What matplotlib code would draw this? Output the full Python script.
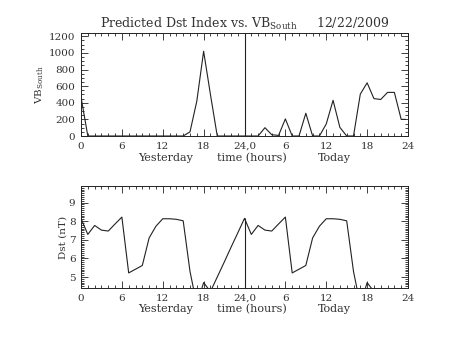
import matplotlib
matplotlib.use("Agg")
import matplotlib.pyplot as plt
from matplotlib.ticker import MultipleLocator, FixedLocator
import numpy as np

plt.rcParams['font.family'] = ['DejaVu Serif']
plt.rcParams['mathtext.fontset'] = 'dejavuserif'

# ---- data ----
hours_vb = [0, 1, 2, 3, 4, 5, 6, 7, 8, 9, 10, 11, 12, 13, 14, 15, 16, 17, 18, 19, 20, 21, 22, 23,
            24, 25, 26, 27, 28, 29, 30, 31, 32, 33, 34, 35, 36, 37, 38, 39, 40, 41, 42, 43, 44, 45, 46, 47, 47.6]
vb_south = [470, 0, 0, 0, 0, 0, 0, 0, 0, 0, 0, 0, 0, 0, 0, 0, 50, 420, 1020, 500, 0, 0, 0, 0,
            0, 0, 0, 100, 15, 7, 206, 0, 0, 274, 0, 0, 145, 430, 104, 0, 0, 505, 640, 450, 440, 525, 525, 200, 200]

hours_dst = list(range(0, 44))
dst = [8.15, 7.29, 7.77, 7.52, 7.47, 7.85, 8.22, 5.22, 5.42, 5.62, 7.10, 7.73, 8.13, 8.13, 8.10, 8.02,
       5.30, 3.50, 4.70, 4.22, 5.00, 5.78, 6.58, 7.36,
       8.15, 7.29, 7.77, 7.52, 7.47, 7.85, 8.22, 5.22, 5.42, 5.62, 7.10, 7.73, 8.13, 8.13, 8.10, 8.02,
       5.30, 3.50, 4.70, 4.22]

xtick_pos = [0, 6, 12, 18, 24, 30, 36, 42, 48]
xtick_labels = ["0", "6", "12", "18", "24,0", "6", "12", "18", "24"]
title = r"Predicted Dst Index vs. VB$_{\mathrm{South}}$     12/22/2009"

W, H = 453, 340
fig = plt.figure(figsize=(W / 100, H / 100), dpi=100)
fc = '#222222'
tc = '#333333'
lw = 0.8

def style(ax):
    ax.set_xlim(0, 48)
    ax.xaxis.set_major_locator(FixedLocator(xtick_pos))
    ax.set_xticklabels(xtick_labels)
    ax.xaxis.set_minor_locator(MultipleLocator(1))
    ax.tick_params(which='both', direction='in', top=True, right=True, colors=fc,
                   labelsize=7.5, labelcolor=tc, width=0.6)
    ax.tick_params(which='major', length=5, pad=4)
    ax.tick_params(which='minor', length=2.5)
    for s in ax.spines.values():
        s.set_linewidth(0.7)
        s.set_color(fc)
    for lab, fx in (("Yesterday", 0.259), ("time (hours)", 0.524), ("Today", 0.774)):
        ax.text(fx, -0.21, lab, transform=ax.transAxes, ha='center', va='center',
                fontsize=8, color=tc)

# top panel
ax1 = fig.add_axes([81 / W, 1 - 136 / H, 327 / W, 103 / H])
ax1.plot(hours_vb, vb_south, color=fc, lw=lw)
ax1.axvline(24, color=fc, lw=lw)
ax1.set_ylim(0, 1240)
ax1.yaxis.set_major_locator(MultipleLocator(200))
ax1.yaxis.set_minor_locator(MultipleLocator(50))
style(ax1)
ax1.set_ylabel(r"VB$_{\mathrm{South}}$", fontsize=7.5, labelpad=2, color=tc)
ax1.set_title(title, fontsize=9, pad=4, color=tc)

# bottom panel
ax2 = fig.add_axes([81 / W, 1 - 288 / H, 327 / W, 102 / H])
ylo, yhi = 4.41, 9.89
ax2.plot(hours_dst, dst, color=fc, lw=lw)
ax2.vlines(24, ylo, dst[24], color=fc, lw=lw)
ax2.set_ylim(ylo, yhi)
ax2.yaxis.set_major_locator(MultipleLocator(1))
ax2.yaxis.set_minor_locator(MultipleLocator(0.1))
style(ax2)
ax2.set_ylabel("Dst (nT)", fontsize=7.5, labelpad=1, color=tc)

fig.savefig("out.png", dpi=100, facecolor='white')
